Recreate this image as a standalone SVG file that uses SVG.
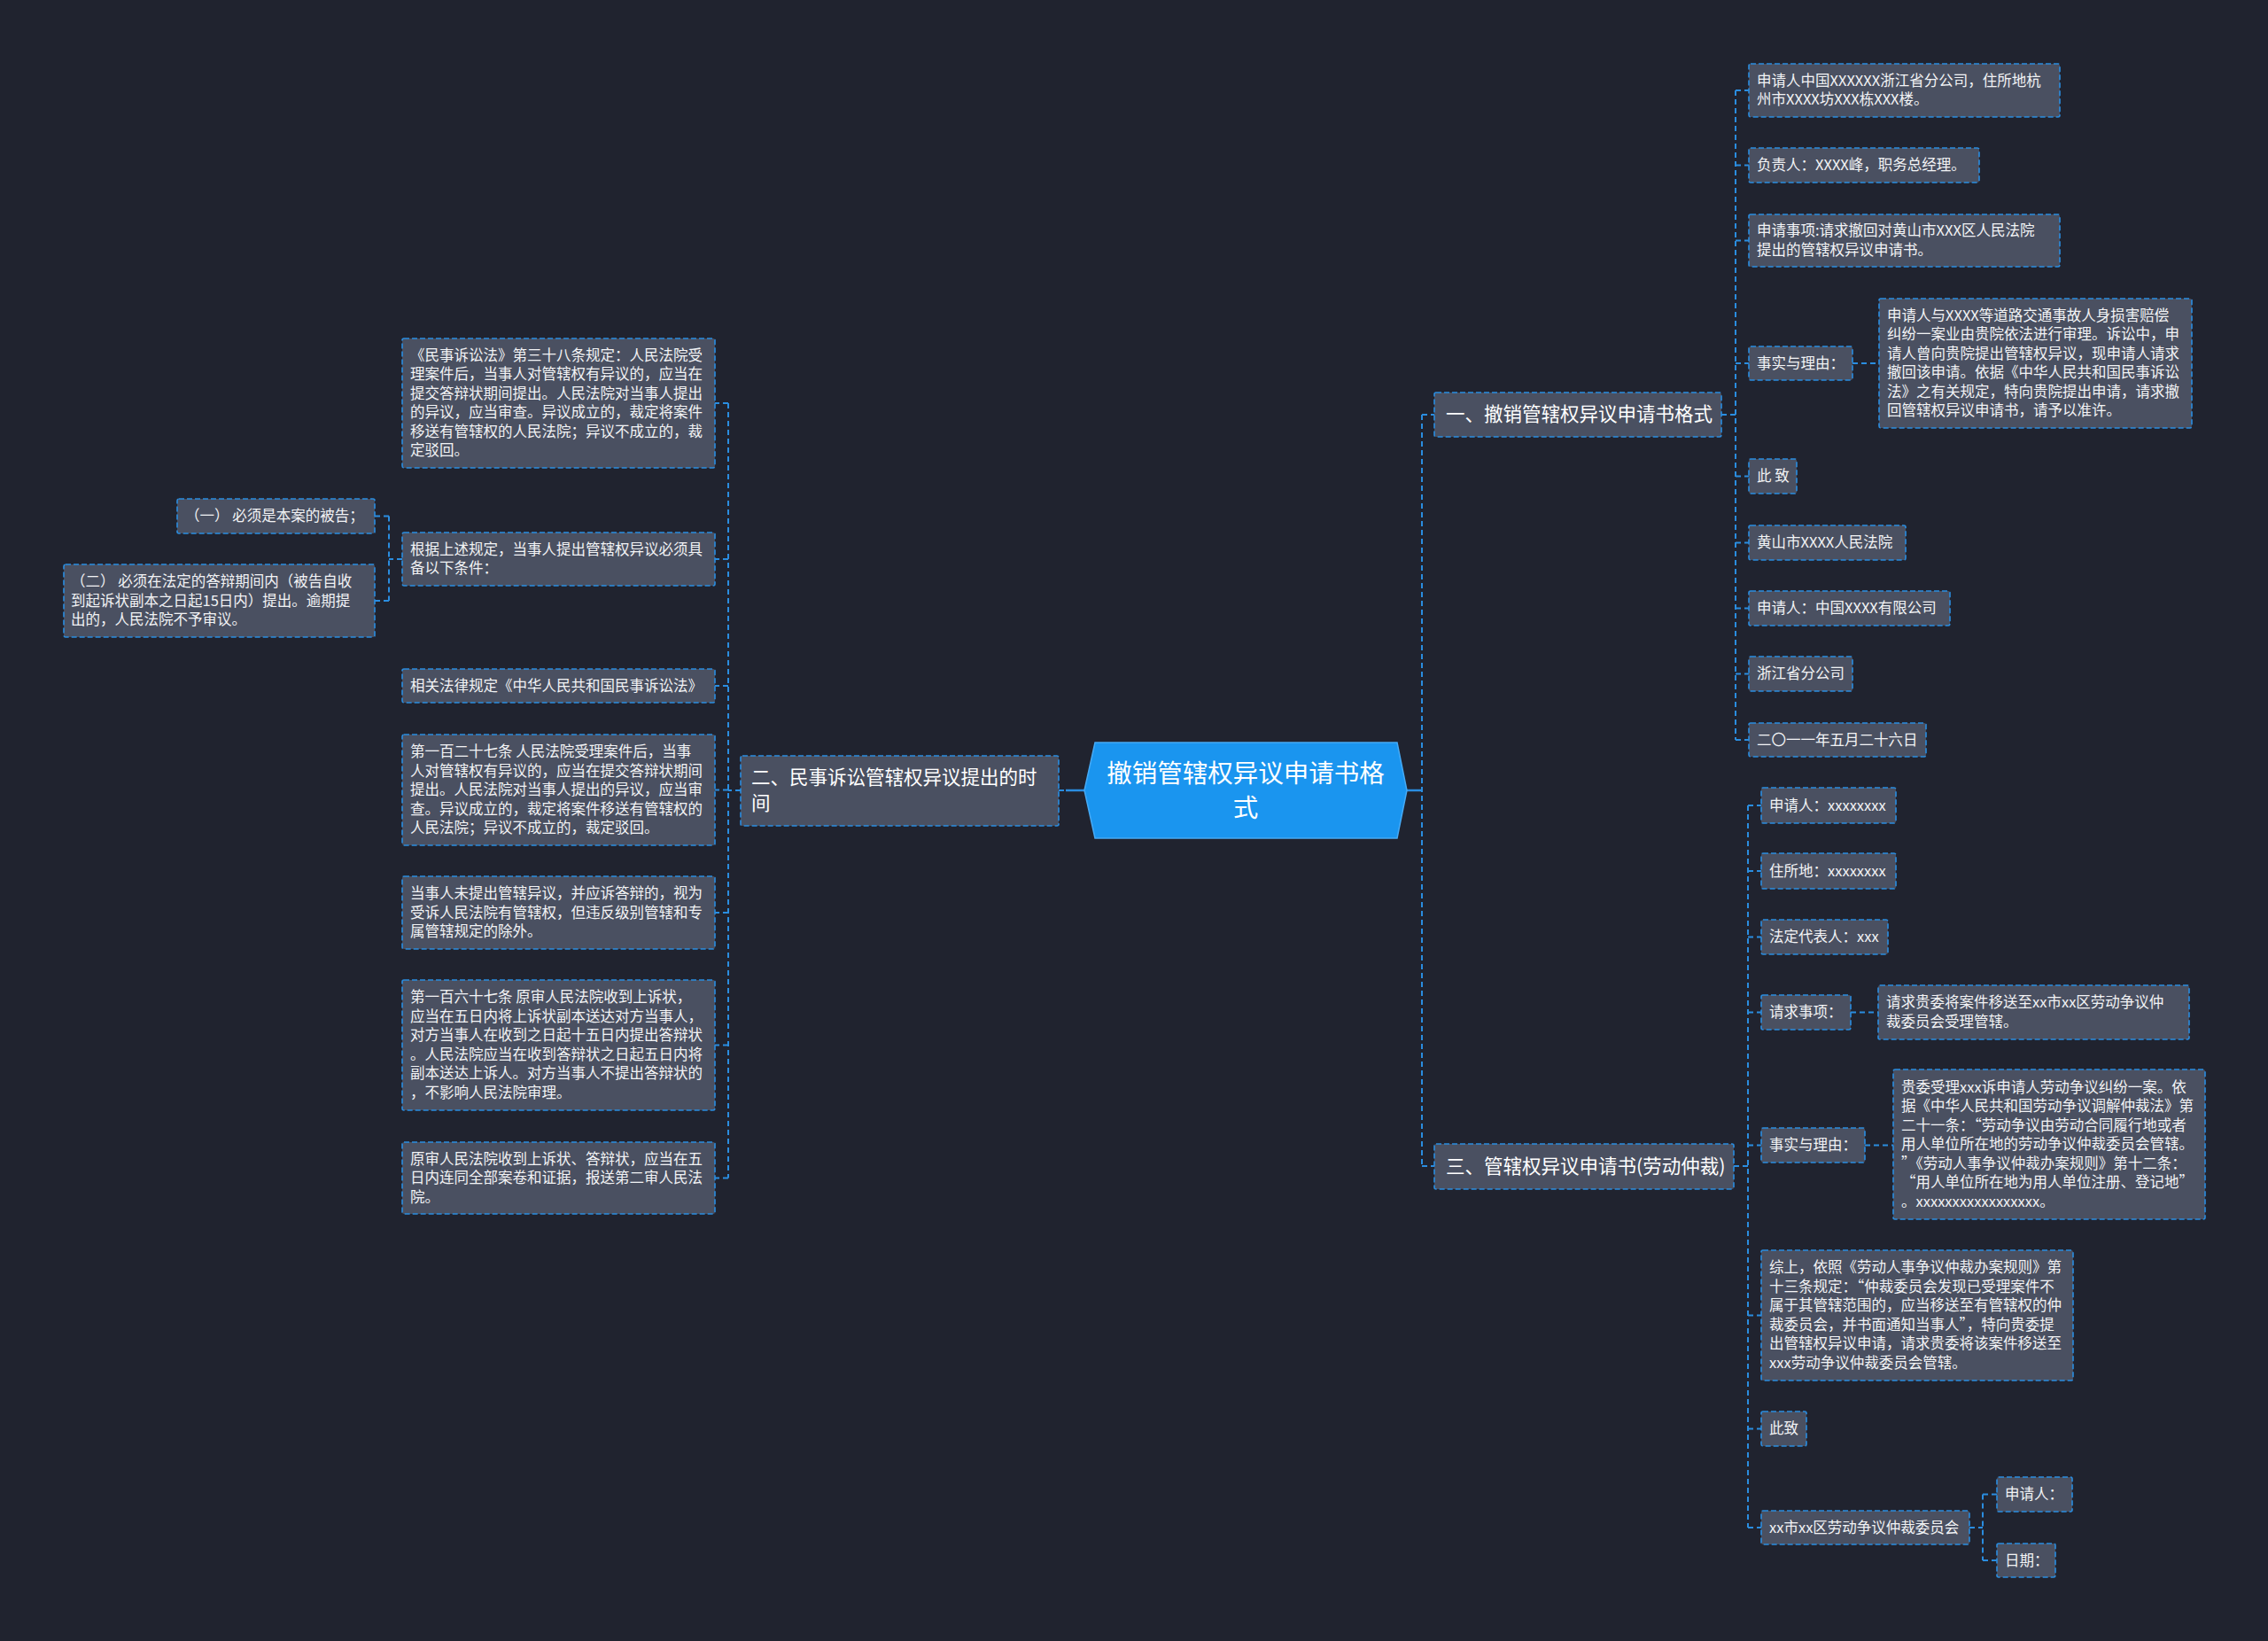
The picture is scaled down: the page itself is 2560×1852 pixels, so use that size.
<svg xmlns="http://www.w3.org/2000/svg" width="2560" height="1852" viewBox="0 0 2560 1852">
<style>
.bg{fill:#20232f}
.box{fill:#4a5061;stroke:#2a8de0;stroke-width:1.6;stroke-dasharray:6 3}
.t{font-family:"Noto Sans CJK SC","Noto Sans",sans-serif;font-size:16.5px;fill:#f2f3f5;dominant-baseline:central;transform:translateY(-1.5px)}
.t1{font-family:"Noto Sans CJK SC","Noto Sans",sans-serif;font-size:21.5px;fill:#ffffff;dominant-baseline:central;transform:translateY(-2.5px)}
.t0{font-family:"Noto Sans CJK SC","Noto Sans",sans-serif;font-size:28.5px;fill:#ffffff;dominant-baseline:central;text-anchor:middle;transform:translateY(-3px)}
.c{fill:none;stroke:#2a8de0;stroke-width:2;stroke-dasharray:6 4}
.cs{fill:none;stroke:#2a8de0;stroke-width:2.5}
</style>
<rect class="bg" x="0" y="0" width="2560" height="1852"/>

<g id="connectors">
  <path class="cs" d="M1203 892H1224"/>
  <path class="c" d="M1195 892H1203"/>
  <path class="cs" d="M1588 892H1605"/>
  <path class="c" d="M1605 468V1316M1605 468H1619M1605 1316H1619"/>
  <path class="c" d="M1943 468H1959M1959 102V835M1959 102H1974M1959 186.5H1974M1959 271.5H1974M1959 410H1974M1959 537.5H1974M1959 612.5H1974M1959 686.5H1974M1959 760.5H1974M1959 835H1974"/>
  <path class="c" d="M2091 410H2121"/>
  <path class="c" d="M1957 1316H1973M1973 909V1724M1973 909H1988M1973 983H1988M1973 1057.5H1988M1973 1142.5H1988M1973 1292.5H1988M1973 1484.5H1988M1973 1612.5H1988M1973 1724H1988"/>
  <path class="c" d="M2089 1142.5H2120M2105 1292.5H2137"/>
  <path class="c" d="M2223 1724H2238M2238 1686.5V1761M2238 1686.5H2254M2238 1761H2254"/>
  <path class="c" d="M836 892H822M822 455V1329.5M822 455H807M822 631H807M822 774H807M822 891.5H807M822 1030H807M822 1179.5H807M822 1329.5H807"/>
  <path class="c" d="M454 631H439M439 582.5V678M439 582.5H423M439 678H423"/>
</g>

<g id="root">
  <polygon points="1224,892 1236,838 1577,838 1588,892 1577,946 1236,946" fill="#1a95ef" stroke="#46aaf5" stroke-width="1.5"/>
  <text class="t0" x="1406" y="873">撤销管辖权异议申请书格</text>
  <text class="t0" x="1406" y="912">式</text>
</g>

<g id="n1">
  <rect class="box" x="1619" y="443" width="324" height="50" rx="2"/>
  <text class="t1" x="1632" y="468">一、撤销管辖权异议申请书格式</text>
</g>
<g id="n1-1">
  <rect class="box" x="1974" y="72" width="351" height="60" rx="2"/>
  <text class="t" x="1983" y="91.25">申请人中国XXXXXX浙江省分公司，住所地杭</text>
  <text class="t" x="1983" y="112.75">州市XXXX坊XXX栋XXX楼。</text>
</g>
<g id="n1-2">
  <rect class="box" x="1974" y="167" width="260" height="39" rx="2"/>
  <text class="t" x="1983" y="186.5">负责人：XXXX峰，职务总经理。</text>
</g>
<g id="n1-3">
  <rect class="box" x="1974" y="242" width="351" height="59" rx="2"/>
  <text class="t" x="1983" y="260.75">申请事项:请求撤回对黄山市XXX区人民法院</text>
  <text class="t" x="1983" y="282.25">提出的管辖权异议申请书。</text>
</g>
<g id="n1-4">
  <rect class="box" x="1974" y="391" width="117" height="38" rx="2"/>
  <text class="t" x="1983" y="410">事实与理由：</text>
</g>
<g id="n1-4-1">
  <rect class="box" x="2121" y="337" width="353" height="146" rx="2"/>
  <text class="t" x="2130" y="356.25">申请人与XXXX等道路交通事故人身损害赔偿</text>
  <text class="t" x="2130" y="377.75">纠纷一案业由贵院依法进行审理。诉讼中，申</text>
  <text class="t" x="2130" y="399.25">请人曾向贵院提出管辖权异议，现申请人请求</text>
  <text class="t" x="2130" y="420.75">撤回该申请。依据《中华人民共和国民事诉讼</text>
  <text class="t" x="2130" y="442.25">法》之有关规定，特向贵院提出申请，请求撤</text>
  <text class="t" x="2130" y="463.75">回管辖权异议申请书，请予以准许。</text>
</g>
<g id="n1-5">
  <rect class="box" x="1974" y="518" width="54" height="39" rx="2"/>
  <text class="t" x="1983" y="537.5">此 致</text>
</g>
<g id="n1-6">
  <rect class="box" x="1974" y="593" width="177" height="39" rx="2"/>
  <text class="t" x="1983" y="612.5">黄山市XXXX人民法院</text>
</g>
<g id="n1-7">
  <rect class="box" x="1974" y="667" width="227" height="39" rx="2"/>
  <text class="t" x="1983" y="686.5">申请人：中国XXXX有限公司</text>
</g>
<g id="n1-8">
  <rect class="box" x="1974" y="741" width="117" height="39" rx="2"/>
  <text class="t" x="1983" y="760.5">浙江省分公司</text>
</g>
<g id="n1-9">
  <rect class="box" x="1974" y="816" width="200" height="38" rx="2"/>
  <text class="t" x="1983" y="835">二〇一一年五月二十六日</text>
</g>

<g id="n3">
  <rect class="box" x="1619" y="1291" width="338" height="51" rx="2"/>
  <text class="t1" x="1632" y="1316.5">三、管辖权异议申请书(劳动仲裁)</text>
</g>
<g id="n3-1">
  <rect class="box" x="1988" y="889" width="152" height="40" rx="2"/>
  <text class="t" x="1997" y="909">申请人：xxxxxxxx</text>
</g>
<g id="n3-2">
  <rect class="box" x="1988" y="963" width="152" height="40" rx="2"/>
  <text class="t" x="1997" y="983">住所地：xxxxxxxx</text>
</g>
<g id="n3-3">
  <rect class="box" x="1988" y="1038" width="143" height="39" rx="2"/>
  <text class="t" x="1997" y="1057.5">法定代表人：xxx</text>
</g>
<g id="n3-4">
  <rect class="box" x="1988" y="1123" width="101" height="39" rx="2"/>
  <text class="t" x="1997" y="1142.5">请求事项：</text>
</g>
<g id="n3-4-1">
  <rect class="box" x="2120" y="1112" width="351" height="61" rx="2"/>
  <text class="t" x="2129" y="1131.75">请求贵委将案件移送至xx市xx区劳动争议仲</text>
  <text class="t" x="2129" y="1153.25">裁委员会受理管辖。</text>
</g>
<g id="n3-5">
  <rect class="box" x="1988" y="1273" width="117" height="39" rx="2"/>
  <text class="t" x="1997" y="1292.5">事实与理由：</text>
</g>
<g id="n3-5-1">
  <rect class="box" x="2137" y="1207" width="352" height="169" rx="2"/>
  <text class="t" x="2146" y="1227">贵委受理xxx诉申请人劳动争议纠纷一案。依</text>
  <text class="t" x="2146" y="1248.5">据《中华人民共和国劳动争议调解仲裁法》第</text>
  <text class="t" x="2146" y="1270">二十一条：“劳动争议由劳动合同履行地或者</text>
  <text class="t" x="2146" y="1291.5">用人单位所在地的劳动争议仲裁委员会管辖。</text>
  <text class="t" x="2146" y="1313">”《劳动人事争议仲裁办案规则》第十二条：</text>
  <text class="t" x="2146" y="1334.5">“用人单位所在地为用人单位注册、登记地”</text>
  <text class="t" x="2146" y="1356">。xxxxxxxxxxxxxxxxx。</text>
</g>
<g id="n3-6">
  <rect class="box" x="1988" y="1411" width="352" height="147" rx="2"/>
  <text class="t" x="1997" y="1430.75">综上，依照《劳动人事争议仲裁办案规则》第</text>
  <text class="t" x="1997" y="1452.25">十三条规定：“仲裁委员会发现已受理案件不</text>
  <text class="t" x="1997" y="1473.75">属于其管辖范围的，应当移送至有管辖权的仲</text>
  <text class="t" x="1997" y="1495.25">裁委员会，并书面通知当事人”，特向贵委提</text>
  <text class="t" x="1997" y="1516.75">出管辖权异议申请，请求贵委将该案件移送至</text>
  <text class="t" x="1997" y="1538.25">xxx劳动争议仲裁委员会管辖。</text>
</g>
<g id="n3-7">
  <rect class="box" x="1988" y="1593" width="51" height="39" rx="2"/>
  <text class="t" x="1997" y="1612.5">此致</text>
</g>
<g id="n3-8">
  <rect class="box" x="1988" y="1705" width="235" height="38" rx="2"/>
  <text class="t" x="1997" y="1724">xx市xx区劳动争议仲裁委员会</text>
</g>
<g id="n3-8-1">
  <rect class="box" x="2254" y="1667" width="85" height="39" rx="2"/>
  <text class="t" x="2263" y="1686.5">申请人：</text>
</g>
<g id="n3-8-2">
  <rect class="box" x="2254" y="1742" width="66" height="38" rx="2"/>
  <text class="t" x="2263" y="1761">日期：</text>
</g>

<g id="n2">
  <rect class="box" x="836" y="853" width="359" height="79" rx="2"/>
  <text class="t1" x="848" y="878">二、民事诉讼管辖权异议提出的时</text>
  <text class="t1" x="848" y="907">间</text>
</g>
<g id="n2-1">
  <rect class="box" x="454" y="382" width="353" height="146" rx="2"/>
  <text class="t" x="463" y="401.25">《民事诉讼法》第三十八条规定：人民法院受</text>
  <text class="t" x="463" y="422.75">理案件后，当事人对管辖权有异议的，应当在</text>
  <text class="t" x="463" y="444.25">提交答辩状期间提出。人民法院对当事人提出</text>
  <text class="t" x="463" y="465.75">的异议，应当审查。异议成立的，裁定将案件</text>
  <text class="t" x="463" y="487.25">移送有管辖权的人民法院；异议不成立的，裁</text>
  <text class="t" x="463" y="508.75">定驳回。</text>
</g>
<g id="n2-2">
  <rect class="box" x="454" y="601" width="353" height="60" rx="2"/>
  <text class="t" x="463" y="620.25">根据上述规定，当事人提出管辖权异议必须具</text>
  <text class="t" x="463" y="641.75">备以下条件：</text>
</g>
<g id="n2-2-1">
  <rect class="box" x="200" y="563" width="223" height="39" rx="2"/>
  <text class="t" x="209" y="582.5">（一） 必须是本案的被告；</text>
</g>
<g id="n2-2-2">
  <rect class="box" x="72" y="637" width="351" height="82" rx="2"/>
  <text class="t" x="80" y="656.5">（二） 必须在法定的答辩期间内（被告自收</text>
  <text class="t" x="80" y="678">到起诉状副本之日起15日内）提出。逾期提</text>
  <text class="t" x="80" y="699.5">出的，人民法院不予审议。</text>
</g>
<g id="n2-3">
  <rect class="box" x="454" y="755" width="353" height="38" rx="2"/>
  <text class="t" x="463" y="774">相关法律规定《中华人民共和国民事诉讼法》</text>
</g>
<g id="n2-4">
  <rect class="box" x="454" y="829" width="353" height="125" rx="2"/>
  <text class="t" x="463" y="848.5">第一百二十七条 人民法院受理案件后，当事</text>
  <text class="t" x="463" y="870">人对管辖权有异议的，应当在提交答辩状期间</text>
  <text class="t" x="463" y="891.5">提出。人民法院对当事人提出的异议，应当审</text>
  <text class="t" x="463" y="913">查。异议成立的，裁定将案件移送有管辖权的</text>
  <text class="t" x="463" y="934.5">人民法院；异议不成立的，裁定驳回。</text>
</g>
<g id="n2-5">
  <rect class="box" x="454" y="989" width="353" height="82" rx="2"/>
  <text class="t" x="463" y="1008.5">当事人未提出管辖异议，并应诉答辩的，视为</text>
  <text class="t" x="463" y="1030">受诉人民法院有管辖权，但违反级别管辖和专</text>
  <text class="t" x="463" y="1051.5">属管辖规定的除外。</text>
</g>
<g id="n2-6">
  <rect class="box" x="454" y="1106" width="353" height="147" rx="2"/>
  <text class="t" x="463" y="1125.75">第一百六十七条 原审人民法院收到上诉状，</text>
  <text class="t" x="463" y="1147.25">应当在五日内将上诉状副本送达对方当事人，</text>
  <text class="t" x="463" y="1168.75">对方当事人在收到之日起十五日内提出答辩状</text>
  <text class="t" x="463" y="1190.25">。人民法院应当在收到答辩状之日起五日内将</text>
  <text class="t" x="463" y="1211.75">副本送达上诉人。对方当事人不提出答辩状的</text>
  <text class="t" x="463" y="1233.25">，不影响人民法院审理。</text>
</g>
<g id="n2-7">
  <rect class="box" x="454" y="1289" width="353" height="81" rx="2"/>
  <text class="t" x="463" y="1308">原审人民法院收到上诉状、答辩状，应当在五</text>
  <text class="t" x="463" y="1329.5">日内连同全部案卷和证据，报送第二审人民法</text>
  <text class="t" x="463" y="1351">院。</text>
</g>
</svg>
